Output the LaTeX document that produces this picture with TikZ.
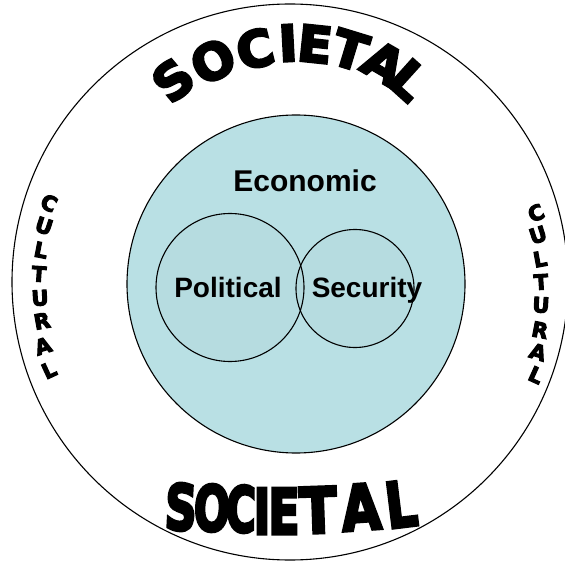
\documentclass[tikz,border=0pt]{standalone}
\usepackage{fontspec}
\setmainfont{Liberation Sans}
\newfontfamily\heavy{DejaVu Sans Bold}[FakeBold=5]
\definecolor{econfill}{RGB}{185,224,228}
\begin{document}
\begin{tikzpicture}[x=1pt,y=-1pt,
  ring/.style={circle, draw, line width=1.1pt, inner sep=0pt},
  lab/.style={font=\bfseries\fontsize{28}{30}\selectfont, inner sep=0pt, anchor=base},
  toplet/.style={font=\heavy\fontsize{50}{50}\selectfont, inner sep=0pt},
  botlet/.style={font=\heavy\fontsize{34}{34}\selectfont, inner sep=0pt},
  cultlet/.style={font=\heavy\fontsize{21}{21}\selectfont, inner sep=0pt}]
\useasboundingbox (0,0) rectangle (565,564);
\node[ring, minimum size=556pt] (soc) at (290,282) {};
\node[ring, fill=econfill, minimum size=338pt] (econ) at (296,284) {};
\node[ring, fill=black, fill opacity=0.015, minimum size=148pt] (pol) at (230,287.5) {};
\node[ring, fill=black, fill opacity=0.015, minimum size=118pt] (sec) at (355,288.5) {};
\node[lab, font=\bfseries\fontsize{30}{32}\selectfont] (econlab) at (305,191.5) {Economic};
\node[lab] (pollab) at (228,297) {Political};
\node[lab] (seclab) at (367,297) {Security};
\foreach \l/\x/\y/\r [count=\i] in {S/173/80/40, O/213/61/28, C/255/49/14, I/288/43/3, E/315/44/-6, T/350/50/-17, A/384/63/-30, L/409/80/-42}
  \node[toplet, rotate=\r] (top\i) at (\x,\y) {\l};
\foreach \l/\x/\y/\r/\s [count=\i] in {S/181/507/-3/1.3, O/212/508/-2/1.25, C/241/509/-1/1.2, I/262/511/0/1.3, E/284/511/0/1.35, T/318/510/2/1.6, A/361/507/4/1.5, L/401/504/7/1.45}
  \node[botlet, rotate=\r] (bot\i) at (\x,\y) {\scalebox{\s}[1.85]{\l}};
\foreach \l/\x/\y [count=\i] in {C/49/203, U/44/226, L/41/250, T/39/274, U/40/298, R/42/321, A/43/346, L/49/370}
  \node[cultlet, rotate={(\y-287)*0.3}] (cl\i) at (\x,\y) {\l};
\foreach \l/\x/\y [count=\i] in {C/536/213, U/538/235, L/540/259, T/541/282, U/541/305, R/540/330, A/538/352, L/536/375}
  \node[cultlet, rotate={-(\y-294)*0.3}] (cr\i) at (\x,\y) {\l};
\end{tikzpicture}
\end{document}
